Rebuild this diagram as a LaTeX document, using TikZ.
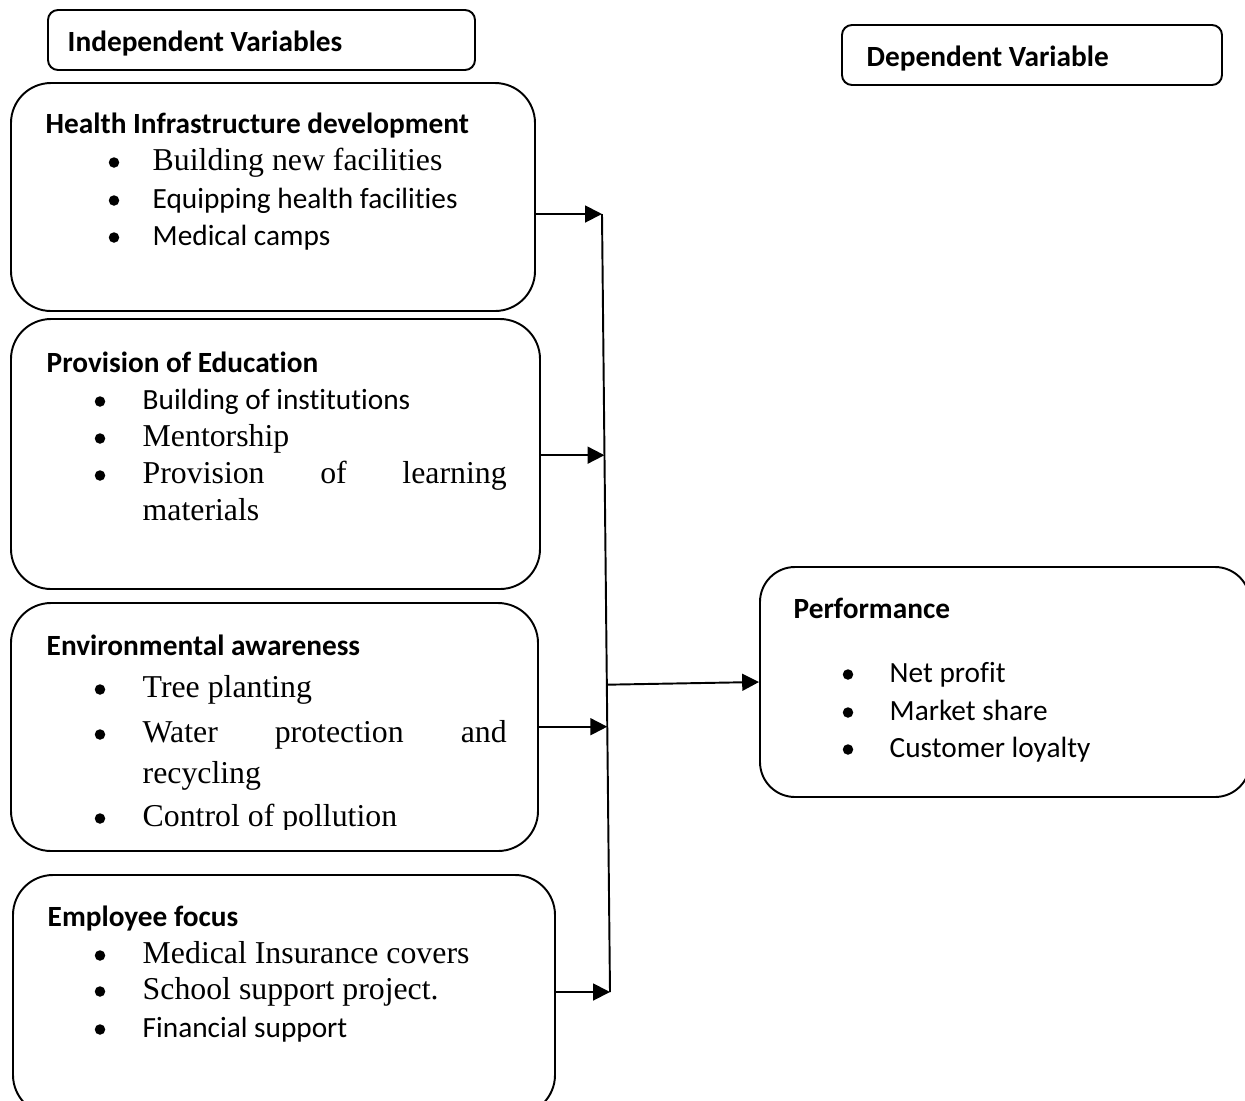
\documentclass[tikz,border=0pt]{standalone}
\usepackage{fontspec}
\setmainfont{Liberation Serif}
\newfontfamily\calibri[Ligatures={NoCommon}]{Carlito}
\usetikzlibrary{arrows.meta,calc}

\newcommand{\tnr}{\fontsize{9.05pt}{11pt}\selectfont}
\newcommand{\cbr}{\calibri\fontsize{8.34pt}{10pt}\selectfont}
\newcommand{\cbb}{\calibri\bfseries\fontsize{8.34pt}{10pt}\selectfont}

\tikzset{
  hdr/.style={draw, rounded corners=1mm, inner sep=0pt, line width=0.55pt},
  var/.style={draw, rounded corners=4mm, inner sep=0pt, line width=0.55pt},
  txt/.style={anchor=base west, inner sep=0pt},
  dot/.style={circle, fill, inner sep=0pt, minimum size=1.05mm, yshift=0.75mm},
  link/.style={line width=0.55pt, -{Triangle[length=4.8pt,width=4.8pt]}}
}

\begin{document}
\begin{tikzpicture}[x=0.1mm, y=-0.1mm]
  \useasboundingbox (0,0) rectangle (1245,1101);
  \clip (0,0) rectangle (1245,1101);

  % Headings
  \node[hdr, minimum width=42.7mm, minimum height=6mm] (ivh) at (261.5,40) {};
  \node[txt] (ivh-t) at (67,51) {\cbb Independent Variables};
  \node[hdr, minimum width=38mm, minimum height=6mm] (dvh) at (1032,55) {};
  \node[txt] (dvh-t) at (866,66) {\cbb Dependent Variable};

  % Health infrastructure
  \node[var, minimum width=52.4mm, minimum height=22.8mm] (hid) at (273,197) {};
  \node[txt] (hid-t) at (45,133) {\cbb Health Infrastructure development};
  \foreach \y/\f/\t [count=\i] in {170/\tnr/Building new facilities,
      208/\cbr/Equipping health facilities, 245/\cbr/Medical camps}{
    \node[dot] (hid-b\i) at (114,\y) {};
    \node[txt] (hid-\i) at (152,\y) {\f \t};
  }

  % Education
  \node[var, minimum width=52.9mm, minimum height=27mm] (edu) at (275.5,454) {};
  \node[txt] (edu-t) at (46,372) {\cbb Provision of Education};
  \foreach \y/\f/\t [count=\i] in {409/\cbr/Building of institutions,
      446/\tnr/Mentorship}{
    \node[dot] (edu-b\i) at (100,\y) {};
    \node[txt] (edu-\i) at (142,\y) {\f \t};
  }
  \node[dot] (edu-b3) at (100,483) {};
  \node[txt] (edu-3) at (142,483) {\tnr\makebox[36.4mm][l]{Provision\hfill of\hfill learning}};
  \node[txt] (edu-3b) at (142,520) {\tnr materials};

  % Environment
  \node[var, minimum width=52.7mm, minimum height=24.8mm] (env) at (274.5,727) {};
  \node[txt] (env-t) at (46,655) {\cbb Environmental awareness};
  \node[dot] (env-b1) at (100,697) {};
  \node[txt] (env-1) at (142,697) {\tnr Tree planting};
  \node[dot] (env-b2) at (100,742) {};
  \node[txt] (env-2) at (142,742) {\tnr\makebox[36.4mm][l]{Water\hfill protection\hfill and}};
  \node[txt] (env-2b) at (142,783) {\tnr recycling};
  \begin{scope}
    \clip (80,790) rectangle (540,829);
    \node[dot] (env-b3) at (100,826) {};
    \node[txt] (env-3) at (142,826) {\tnr Control of pollution};
  \end{scope}

  % Employees
  \node[var, minimum width=54.2mm, minimum height=24mm] (emp) at (284,995) {};
  \node[txt] (emp-t) at (47,926) {\cbb Employee focus};
  \foreach \y/\f/\t [count=\i] in {963/\tnr/Medical Insurance covers,
      999/\tnr/School support project., 1037/\cbr/Financial support}{
    \node[dot] (emp-b\i) at (100,\y) {};
    \node[txt] (emp-\i) at (142,\y) {\f \t};
  }

  % Performance
  \node[var, rounded corners=3.5mm, minimum width=49mm, minimum height=23mm] (perf) at (1005,682) {};
  \node[txt] (perf-t) at (793,618) {\cbb Performance};
  \foreach \y/\t [count=\i] in {682/Net profit, 720/Market share, 757/Customer loyalty}{
    \node[dot] (perf-b\i) at (848,\y) {};
    \node[txt] (perf-\i) at (889,\y) {\cbr \t};
  }

  % connectors
  \coordinate (bt) at (602,214);
  \coordinate (bb) at (610,992);
  \coordinate (b2) at ($(bt)!0.31!(bb)$);
  \coordinate (b3) at ($(bt)!0.659!(bb)$);
  \coordinate (bo) at ($(bt)!0.605!(bb)$);
  \draw[line width=0.55pt] (bt) -- (bb);
  \draw[link] (hid.east |- bt) -- (bt);
  \draw[link] (edu.east |- b2) -- (b2);
  \draw[link] (env.east |- b3) -- (b3);
  \draw[link] (emp.east |- bb) -- (bb);
  \draw[link] (bo) -- (perf.west);
\end{tikzpicture}
\end{document}
